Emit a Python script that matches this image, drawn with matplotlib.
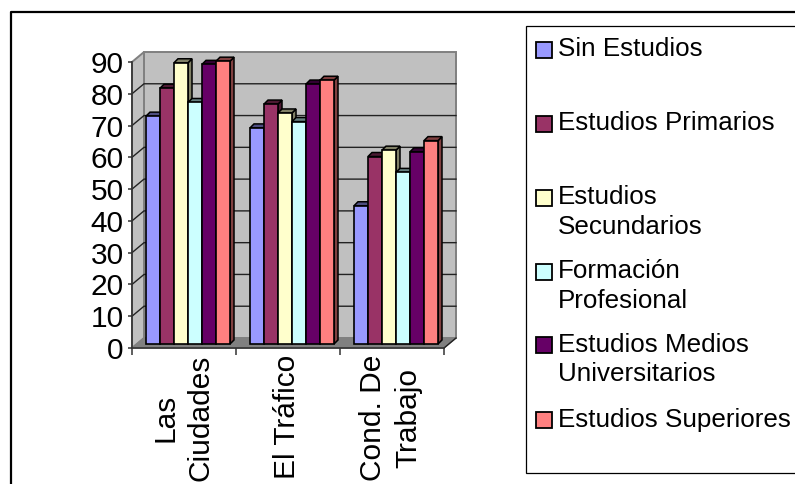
"""Clustered pseudo-3D bars: opinion by level of studies."""

import matplotlib
matplotlib.use('Agg')
import numpy as np
import matplotlib.pyplot as plt
from matplotlib.patches import Polygon, Rectangle
from matplotlib.lines import Line2D

plt.rcParams['font.family'] = ['Liberation Sans', 'DejaVu Sans']

categories = ['Las\nCiudades', 'El Tráfico', 'Cond. De\nTrabajo']
series_names = ['Sin Estudios', 'Estudios Primarios', 'Estudios\nSecundarios',
                'Formación\nProfesional', 'Estudios Medios\nUniversitarios',
                'Estudios Superiores']
sin_estudios = [71.7, 68, 43.5]
primarios = [80.5, 75.5, 59]
secundarios = [88.5, 72.7, 61]
formacion = [76, 70, 54]
medios = [88, 81.8, 60.5]
superiores = [89, 83, 64]
values = [sin_estudios, primarios, secundarios, formacion, medios, superiores]
colors = ['#9999FF', '#993366', '#FFFFCC', '#CCFFFF', '#660066', '#FF8080']
top_colors = ['#4d4d80', '#4d1a33', '#808066', '#668080', '#330033', '#804040']
side_colors = top_colors
y_ticks = list(range(0, 100, 10))

W, H = 795, 484
fig = plt.figure(figsize=(W / 100, H / 100), dpi=100)


def px_rect(x0, y0, x1, y1):
    # pixel box (y from the top) to figure fractions
    return [x0 / W, 1 - y1 / H, (x1 - x0) / W, (y1 - y0) / H]


ax = fig.add_axes(px_rect(132, 62, 444, 348))
ax.set_xlim(0, 3)
ax.set_ylim(0, 90)
ax.patch.set_visible(False)
for name in ['top', 'right']:
    ax.spines[name].set_visible(False)
for name in ['left', 'bottom']:
    ax.spines[name].set_color('#333333')
    ax.spines[name].set_linewidth(1.2)
    ax.spines[name].set_zorder(1.5)

# depth of the box and of the bars, in data units
xpx = 3 / 312
ypx = 90 / 286
dx, dy = 12 * xpx, 10 * ypx
bar_dx, bar_dy = 14 * xpx, 4 * ypx
bar_depth_x, bar_depth_y = 4 * xpx, 4 * ypx

# walls and floor
ax.add_patch(Polygon([(dx, dy), (3 + dx, dy), (3 + dx, 90 + dy), (dx, 90 + dy)],
                     fc='#C0C0C0', ec='#808080', lw=1.4, zorder=0, clip_on=False))
ax.add_patch(Polygon([(0, 0), (dx, dy), (dx, 90 + dy), (0, 90)],
                     fc='#C0C0C0', ec='#808080', lw=1.4, zorder=0, clip_on=False))
ax.add_patch(Polygon([(0, 0), (3, 0), (3 + dx, dy), (dx, dy)],
                     fc='#808080', ec='#808080', lw=1, zorder=0, clip_on=False))
for t in y_ticks[1:-1]:
    ax.plot([0, dx, 3 + dx], [t, t + dy, t + dy], color='#222222', lw=1.0,
            zorder=1, clip_on=False)
ax.plot([3, 3 + dx], [0, dy], color='#222222', lw=1.0, zorder=1, clip_on=False)

# bars, drawn back to front within a cluster
n = len(values)
width = 14 * xpx
for c in range(len(categories)):
    for s in range(n):
        v = values[s][c]
        left = c + bar_dx + s * width
        top = v + bar_dy
        ax.add_patch(Polygon([(left + width, top), (left + width + bar_depth_x, top + bar_depth_y),
                              (left + width + bar_depth_x, bar_dy + bar_depth_y),
                              (left + width, bar_dy)],
                             fc=side_colors[s], ec='black', lw=1.1, zorder=2 + s, clip_on=False))
        ax.add_patch(Polygon([(left, top), (left + bar_depth_x, top + bar_depth_y),
                              (left + width + bar_depth_x, top + bar_depth_y), (left + width, top)],
                             fc=top_colors[s], ec='black', lw=1.1, zorder=2 + s, clip_on=False))
        ax.bar(left, v, width=width, bottom=bar_dy, align='edge', color=colors[s],
               edgecolor='black', linewidth=1.2, zorder=2.5 + s, clip_on=False)

ax.set_yticks(y_ticks)
ax.set_xticks([0, 1, 2, 3])
ax.set_xticklabels([])
ax.tick_params(axis='y', length=3, width=1.1, color='#333333', pad=3, labelsize=21.5)
ax.tick_params(axis='x', length=5, width=1.1, color='#333333')

for c, label in enumerate(categories):
    ax.text(c + 0.49, -2, label, rotation=90, ha='center', va='top', fontsize=21.5,
            linespacing=1.35, multialignment='center', clip_on=False)

# outer frame, cut by the image edge
fig.add_artist(Line2D([11 / W, 11 / W, 1], [0, 1 - 12 / H, 1 - 12 / H], color='black', lw=1.6))

# legend box
fig.add_artist(Rectangle((525.5 / W, 1 - 472.5 / H), 300 / W, 446.5 / H, fc='white',
                         ec='black', lw=0.9, transform=fig.transFigure))
legend_y = [48, 122, 196, 270, 343, 418]
for name, col, y in zip(series_names, colors, legend_y):
    fig.add_artist(Rectangle((536 / W, 1 - (y + 10) / H), 16 / W, 16 / H, fc=col, ec='black',
                             lw=1.3, transform=fig.transFigure))
    fig.text(558 / W, 1 - (y - 10.5) / H, name, fontsize=18.7, va='top', ha='left', linespacing=1.28)

fig.savefig('out.png', dpi=100)
